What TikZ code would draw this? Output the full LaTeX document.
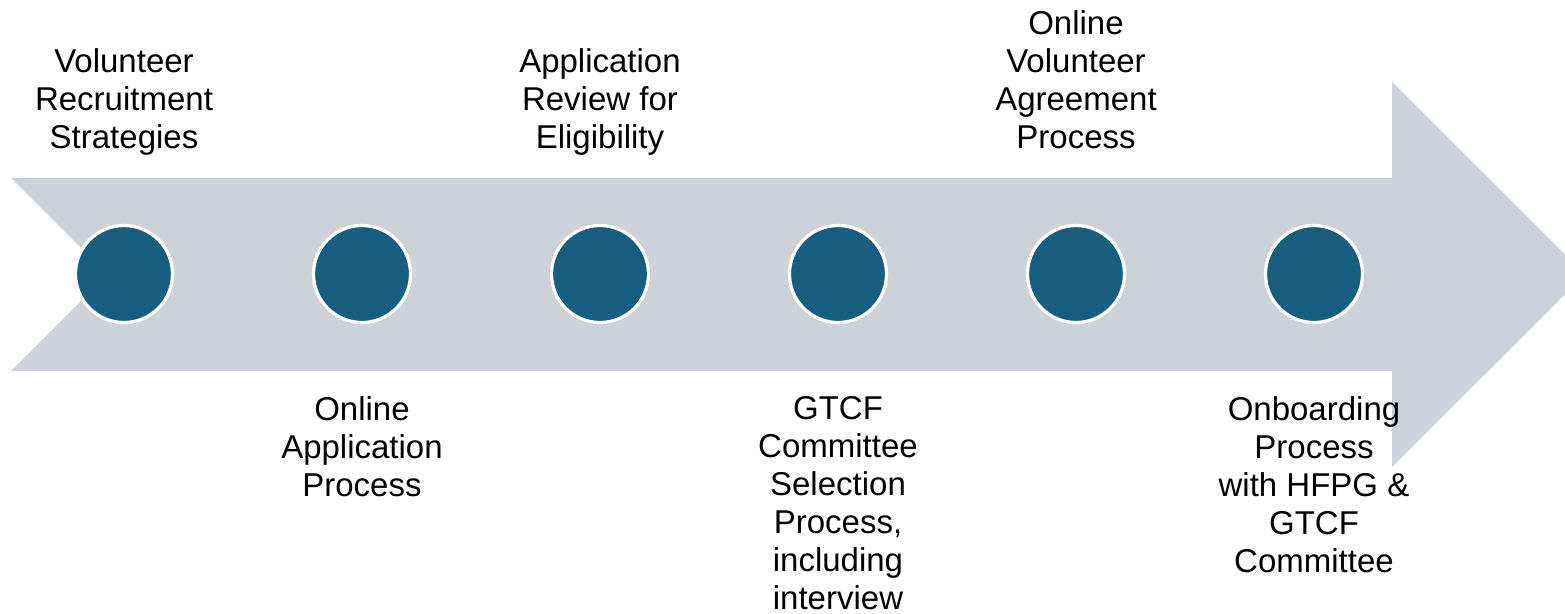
\documentclass[tikz,border=0pt]{standalone}
\usepackage{fontspec}
\setmainfont{Liberation Sans}
\definecolor{arrowgray}{RGB}{205,210,216}
\definecolor{dotblue}{RGB}{23,94,128}
\begin{document}
\begin{tikzpicture}[x=0.5pt,y=-0.5pt,
  dot/.style={circle,fill=dotblue,draw=white,line width=1.6pt,minimum size=48.5pt,inner sep=0pt},
  lbl/.style={align=center,inner sep=0pt,font=\fontsize{16.5pt}{19pt}\selectfont,text=black},
  lblup/.style={lbl,anchor=base},
  lbldown/.style={lbl,anchor=north}]
\useasboundingbox (0,0) rectangle (1565,614);
\begin{scope}
\clip (0,0) rectangle (1565,614);
\fill[arrowgray] (11,178) -- (1392,178) -- (1392,82) -- (1585,274.5) -- (1392,467) -- (1392,371) -- (11,371) -- (107.5,274.5) -- cycle;
\end{scope}
\foreach \i/\x in {1/124,2/362,3/600,4/838,5/1076,6/1314}{
  \node[dot] (c\i) at (\x,274) {};
}
\node[lblup] (t1) at (124,149) {Volunteer\\Recruitment\\Strategies};
\node[lblup] (t3) at (600,149) {Application\\Review for\\Eligibility};
\node[lblup] (t5) at (1076,149) {Online\\Volunteer\\Agreement\\Process};
\node[lbldown] (t2) at (362,396) {Online\\Application\\Process};
\node[lbldown] (t4) at (838,396) {GTCF\\Committee\\Selection\\Process,\\including\\interview};
\node[lbldown] (t6) at (1314,396) {Onboarding\\Process\\with HFPG \&\\GTCF\\Committee};
\end{tikzpicture}
\end{document}
